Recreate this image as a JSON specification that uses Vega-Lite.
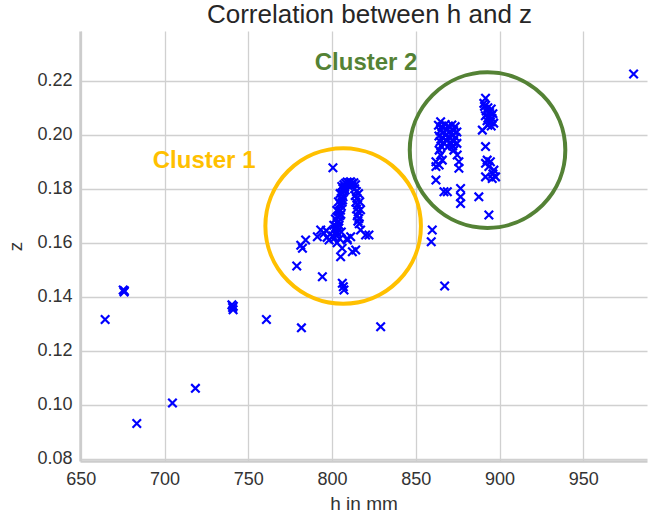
{
  "$schema": "https://vega.github.io/schema/vega-lite/v6.json",
  "width": 567,
  "height": 430,
  "autosize": {"type": "none"},
  "padding": {"left": 80, "top": 31, "right": 2, "bottom": 55},
  "title": {"text": "Correlation between h and z", "font": "Liberation Sans", "fontSize": 26, "fontWeight": "normal", "color": "#262626", "anchor": "middle", "offset": 3, "dx": 6},
  "config": {
    "view": {"stroke": null},
    "axis": {"gridColor": "#d0d0d0", "gridWidth": 1.3, "domainColor": "#cccccc", "domainWidth": 2.5, "ticks": false, "labelFlush": false, "labelFont": "Liberation Sans", "labelFontSize": 18, "labelColor": "#333333", "titleFont": "Liberation Sans", "titleFontSize": 19, "titleFontWeight": "normal", "titleColor": "#333333"}
  },
  "datasets": {
    "pts": [
      {"h": 664.5, "z": 0.1316}, {"h": 675.3, "z": 0.1425}, {"h": 675.8, "z": 0.1418}, {"h": 676.0, "z": 0.1422},
      {"h": 683.4, "z": 0.0931}, {"h": 704.7, "z": 0.1007}, {"h": 718.4, "z": 0.1061},
      {"h": 740.2, "z": 0.137}, {"h": 740.6, "z": 0.136}, {"h": 740.9, "z": 0.1352}, {"h": 741.0, "z": 0.1365},
      {"h": 760.8, "z": 0.1316}, {"h": 781.7, "z": 0.1285}, {"h": 778.9, "z": 0.1514}, {"h": 829.0, "z": 0.1289}, {"h": 980.0, "z": 0.2225},
      {"h": 800.5, "z": 0.1878}, {"h": 781.3, "z": 0.1591}, {"h": 784.2, "z": 0.161}, {"h": 782.3, "z": 0.158},
      {"h": 794.2, "z": 0.1474}, {"h": 806.1, "z": 0.145}, {"h": 807.1, "z": 0.1425}, {"h": 805.1, "z": 0.1548},
      {"h": 812.1, "z": 0.1567}, {"h": 814.1, "z": 0.1573}, {"h": 793.2, "z": 0.1647}, {"h": 795.2, "z": 0.1635},
      {"h": 791.2, "z": 0.1622}, {"h": 798.2, "z": 0.161}, {"h": 801.2, "z": 0.1616}, {"h": 809.1, "z": 0.161},
      {"h": 811.1, "z": 0.1622}, {"h": 817.0, "z": 0.1647}, {"h": 820.0, "z": 0.1629}, {"h": 822.0, "z": 0.1629},
      {"h": 809.0, "z": 0.1616}, {"h": 806.0, "z": 0.158}, {"h": 806.7, "z": 0.1437}, {"h": 797.0, "z": 0.162},
      {"h": 803.0, "z": 0.16}, {"h": 796.5, "z": 0.1645},
      {"h": 800.5, "z": 0.1625}, {"h": 804.5, "z": 0.1615}, {"h": 805.5, "z": 0.164},
      {"h": 802.0, "z": 0.163}, {"h": 803.0, "z": 0.1635}, {"h": 801.5, "z": 0.165}, {"h": 802.5, "z": 0.166},
      {"h": 803.5, "z": 0.1655}, {"h": 803.0, "z": 0.1675}, {"h": 804.0, "z": 0.168}, {"h": 803.5, "z": 0.1695},
      {"h": 804.5, "z": 0.17}, {"h": 804.0, "z": 0.1715}, {"h": 805.0, "z": 0.172}, {"h": 805.5, "z": 0.1735},
      {"h": 804.8, "z": 0.1745}, {"h": 806.0, "z": 0.175}, {"h": 805.5, "z": 0.1765}, {"h": 806.5, "z": 0.177},
      {"h": 806.0, "z": 0.1785}, {"h": 807.0, "z": 0.179}, {"h": 806.5, "z": 0.18}, {"h": 807.5, "z": 0.1805},
      {"h": 807.0, "z": 0.1815}, {"h": 808.0, "z": 0.182},
      {"h": 802.8, "z": 0.1642}, {"h": 804.2, "z": 0.1665}, {"h": 805.2, "z": 0.1705}, {"h": 806.3, "z": 0.1758}, {"h": 807.8, "z": 0.1795},
      {"h": 801.0, "z": 0.1665}, {"h": 802.0, "z": 0.1688}, {"h": 802.8, "z": 0.172}, {"h": 803.8, "z": 0.1752}, {"h": 804.8, "z": 0.1782}, {"h": 805.8, "z": 0.1808},
      {"h": 809.0, "z": 0.1825}, {"h": 810.0, "z": 0.1822}, {"h": 811.0, "z": 0.1826}, {"h": 812.0, "z": 0.182},
      {"h": 813.0, "z": 0.1822}, {"h": 814.0, "z": 0.1815}, {"h": 809.5, "z": 0.1812}, {"h": 811.5, "z": 0.181},
      {"h": 813.5, "z": 0.18}, {"h": 814.5, "z": 0.179}, {"h": 813.8, "z": 0.1775}, {"h": 814.8, "z": 0.1765},
      {"h": 814.2, "z": 0.175}, {"h": 815.2, "z": 0.174}, {"h": 814.6, "z": 0.1725}, {"h": 815.6, "z": 0.1715},
      {"h": 815.0, "z": 0.17}, {"h": 816.0, "z": 0.169}, {"h": 815.4, "z": 0.168}, {"h": 816.2, "z": 0.167},
      {"h": 815.8, "z": 0.1782}, {"h": 816.5, "z": 0.1752}, {"h": 817.0, "z": 0.1722},
      {"h": 864.8, "z": 0.2048},
      {"h": 863.5, "z": 0.2035}, {"h": 865.5, "z": 0.203}, {"h": 867.5, "z": 0.2038}, {"h": 869.5, "z": 0.2032},
      {"h": 871.5, "z": 0.2036}, {"h": 873.5, "z": 0.203}, {"h": 864.5, "z": 0.2015}, {"h": 866.5, "z": 0.201},
      {"h": 868.5, "z": 0.2018}, {"h": 870.5, "z": 0.2012}, {"h": 872.5, "z": 0.2016}, {"h": 874.5, "z": 0.201},
      {"h": 863.8, "z": 0.1995}, {"h": 865.8, "z": 0.199}, {"h": 867.8, "z": 0.1998}, {"h": 869.8, "z": 0.1992},
      {"h": 871.8, "z": 0.1996}, {"h": 873.8, "z": 0.199}, {"h": 864.5, "z": 0.1975}, {"h": 866.5, "z": 0.197},
      {"h": 868.5, "z": 0.1978}, {"h": 870.5, "z": 0.1972}, {"h": 872.5, "z": 0.1976}, {"h": 874.5, "z": 0.1968},
      {"h": 865.0, "z": 0.1958}, {"h": 869.0, "z": 0.1955}, {"h": 872.0, "z": 0.1958},
      {"h": 863.9, "z": 0.1943}, {"h": 864.8, "z": 0.1925}, {"h": 862.0, "z": 0.19}, {"h": 863.9, "z": 0.1888},
      {"h": 862.0, "z": 0.1882}, {"h": 865.8, "z": 0.1906}, {"h": 872.7, "z": 0.1943}, {"h": 874.7, "z": 0.1925},
      {"h": 875.7, "z": 0.19}, {"h": 875.7, "z": 0.1876}, {"h": 862.0, "z": 0.1832}, {"h": 866.8, "z": 0.1789},
      {"h": 868.8, "z": 0.1789}, {"h": 876.7, "z": 0.1801}, {"h": 876.7, "z": 0.177}, {"h": 876.7, "z": 0.1745},
      {"h": 891.6, "z": 0.2135}, {"h": 890.6, "z": 0.2116},
      {"h": 891.0, "z": 0.2105}, {"h": 893.0, "z": 0.21}, {"h": 895.0, "z": 0.2095}, {"h": 892.0, "z": 0.2088},
      {"h": 894.0, "z": 0.2082}, {"h": 896.0, "z": 0.2078}, {"h": 891.5, "z": 0.207}, {"h": 893.5, "z": 0.2065},
      {"h": 895.5, "z": 0.206}, {"h": 892.5, "z": 0.2052}, {"h": 894.5, "z": 0.2047}, {"h": 896.5, "z": 0.2043},
      {"h": 893.0, "z": 0.2035}, {"h": 895.0, "z": 0.2032}, {"h": 889.7, "z": 0.2017},
      {"h": 891.6, "z": 0.1956}, {"h": 892.6, "z": 0.1906}, {"h": 891.6, "z": 0.1894}, {"h": 896.6, "z": 0.1869},
      {"h": 891.6, "z": 0.1844}, {"h": 895.6, "z": 0.1838}, {"h": 897.6, "z": 0.1844}, {"h": 893.6, "z": 0.1882},
      {"h": 894.5, "z": 0.19}, {"h": 896.0, "z": 0.1855}, {"h": 887.6, "z": 0.177}, {"h": 893.6, "z": 0.1703},
      {"h": 859.8, "z": 0.1647}, {"h": 859.2, "z": 0.1604}, {"h": 867.2, "z": 0.144}
    ],
    "ann": [
      {"h": 806.6, "z": 0.1662, "label": "Cluster 1", "lh": 723.6, "lz": 0.1903},
      {"h": 892.8, "z": 0.1943, "label": "Cluster 2", "lh": 820.3, "lz": 0.2266}
    ]
  },
  "layer": [
    {
      "data": {"name": "pts"},
      "mark": {"type": "point", "shape": "M-1,-1L1,1M-1,1L1,-1", "filled": false, "stroke": "#0000ff", "strokeWidth": 2.2, "size": 72, "opacity": 1},
      "encoding": {
        "x": {"field": "h", "type": "quantitative", "scale": {"domain": [649.5, 988], "nice": false, "zero": false}, "axis": {"title": "h in mm", "values": [650, 700, 750, 800, 850, 900, 950], "labelPadding": 9, "titlePadding": 6}},
        "y": {"field": "z", "type": "quantitative", "scale": {"domain": [0.0792, 0.2384], "nice": false, "zero": false}, "axis": {"title": "z", "values": [0.08, 0.1, 0.12, 0.14, 0.16, 0.18, 0.2, 0.22], "format": ".2f", "labelPadding": 8, "titlePadding": 11}}
      }
    },
    {
      "data": {"name": "ann"},
      "mark": {"type": "point", "shape": "circle", "filled": false, "strokeWidth": 4, "size": 24200, "opacity": 1},
      "encoding": {
        "x": {"field": "h", "type": "quantitative"},
        "y": {"field": "z", "type": "quantitative"},
        "stroke": {"field": "label", "type": "nominal", "scale": {"domain": ["Cluster 1", "Cluster 2"], "range": ["#ffc000", "#548235"]}, "legend": null}
      }
    },
    {
      "data": {"name": "ann"},
      "mark": {"type": "text", "font": "Liberation Sans", "fontSize": 24, "fontWeight": "bold", "align": "center", "baseline": "middle"},
      "encoding": {
        "x": {"field": "lh", "type": "quantitative"},
        "y": {"field": "lz", "type": "quantitative"},
        "text": {"field": "label"},
        "color": {"field": "label", "type": "nominal", "scale": {"domain": ["Cluster 1", "Cluster 2"], "range": ["#ffc000", "#548235"]}, "legend": null}
      }
    }
  ]
}
